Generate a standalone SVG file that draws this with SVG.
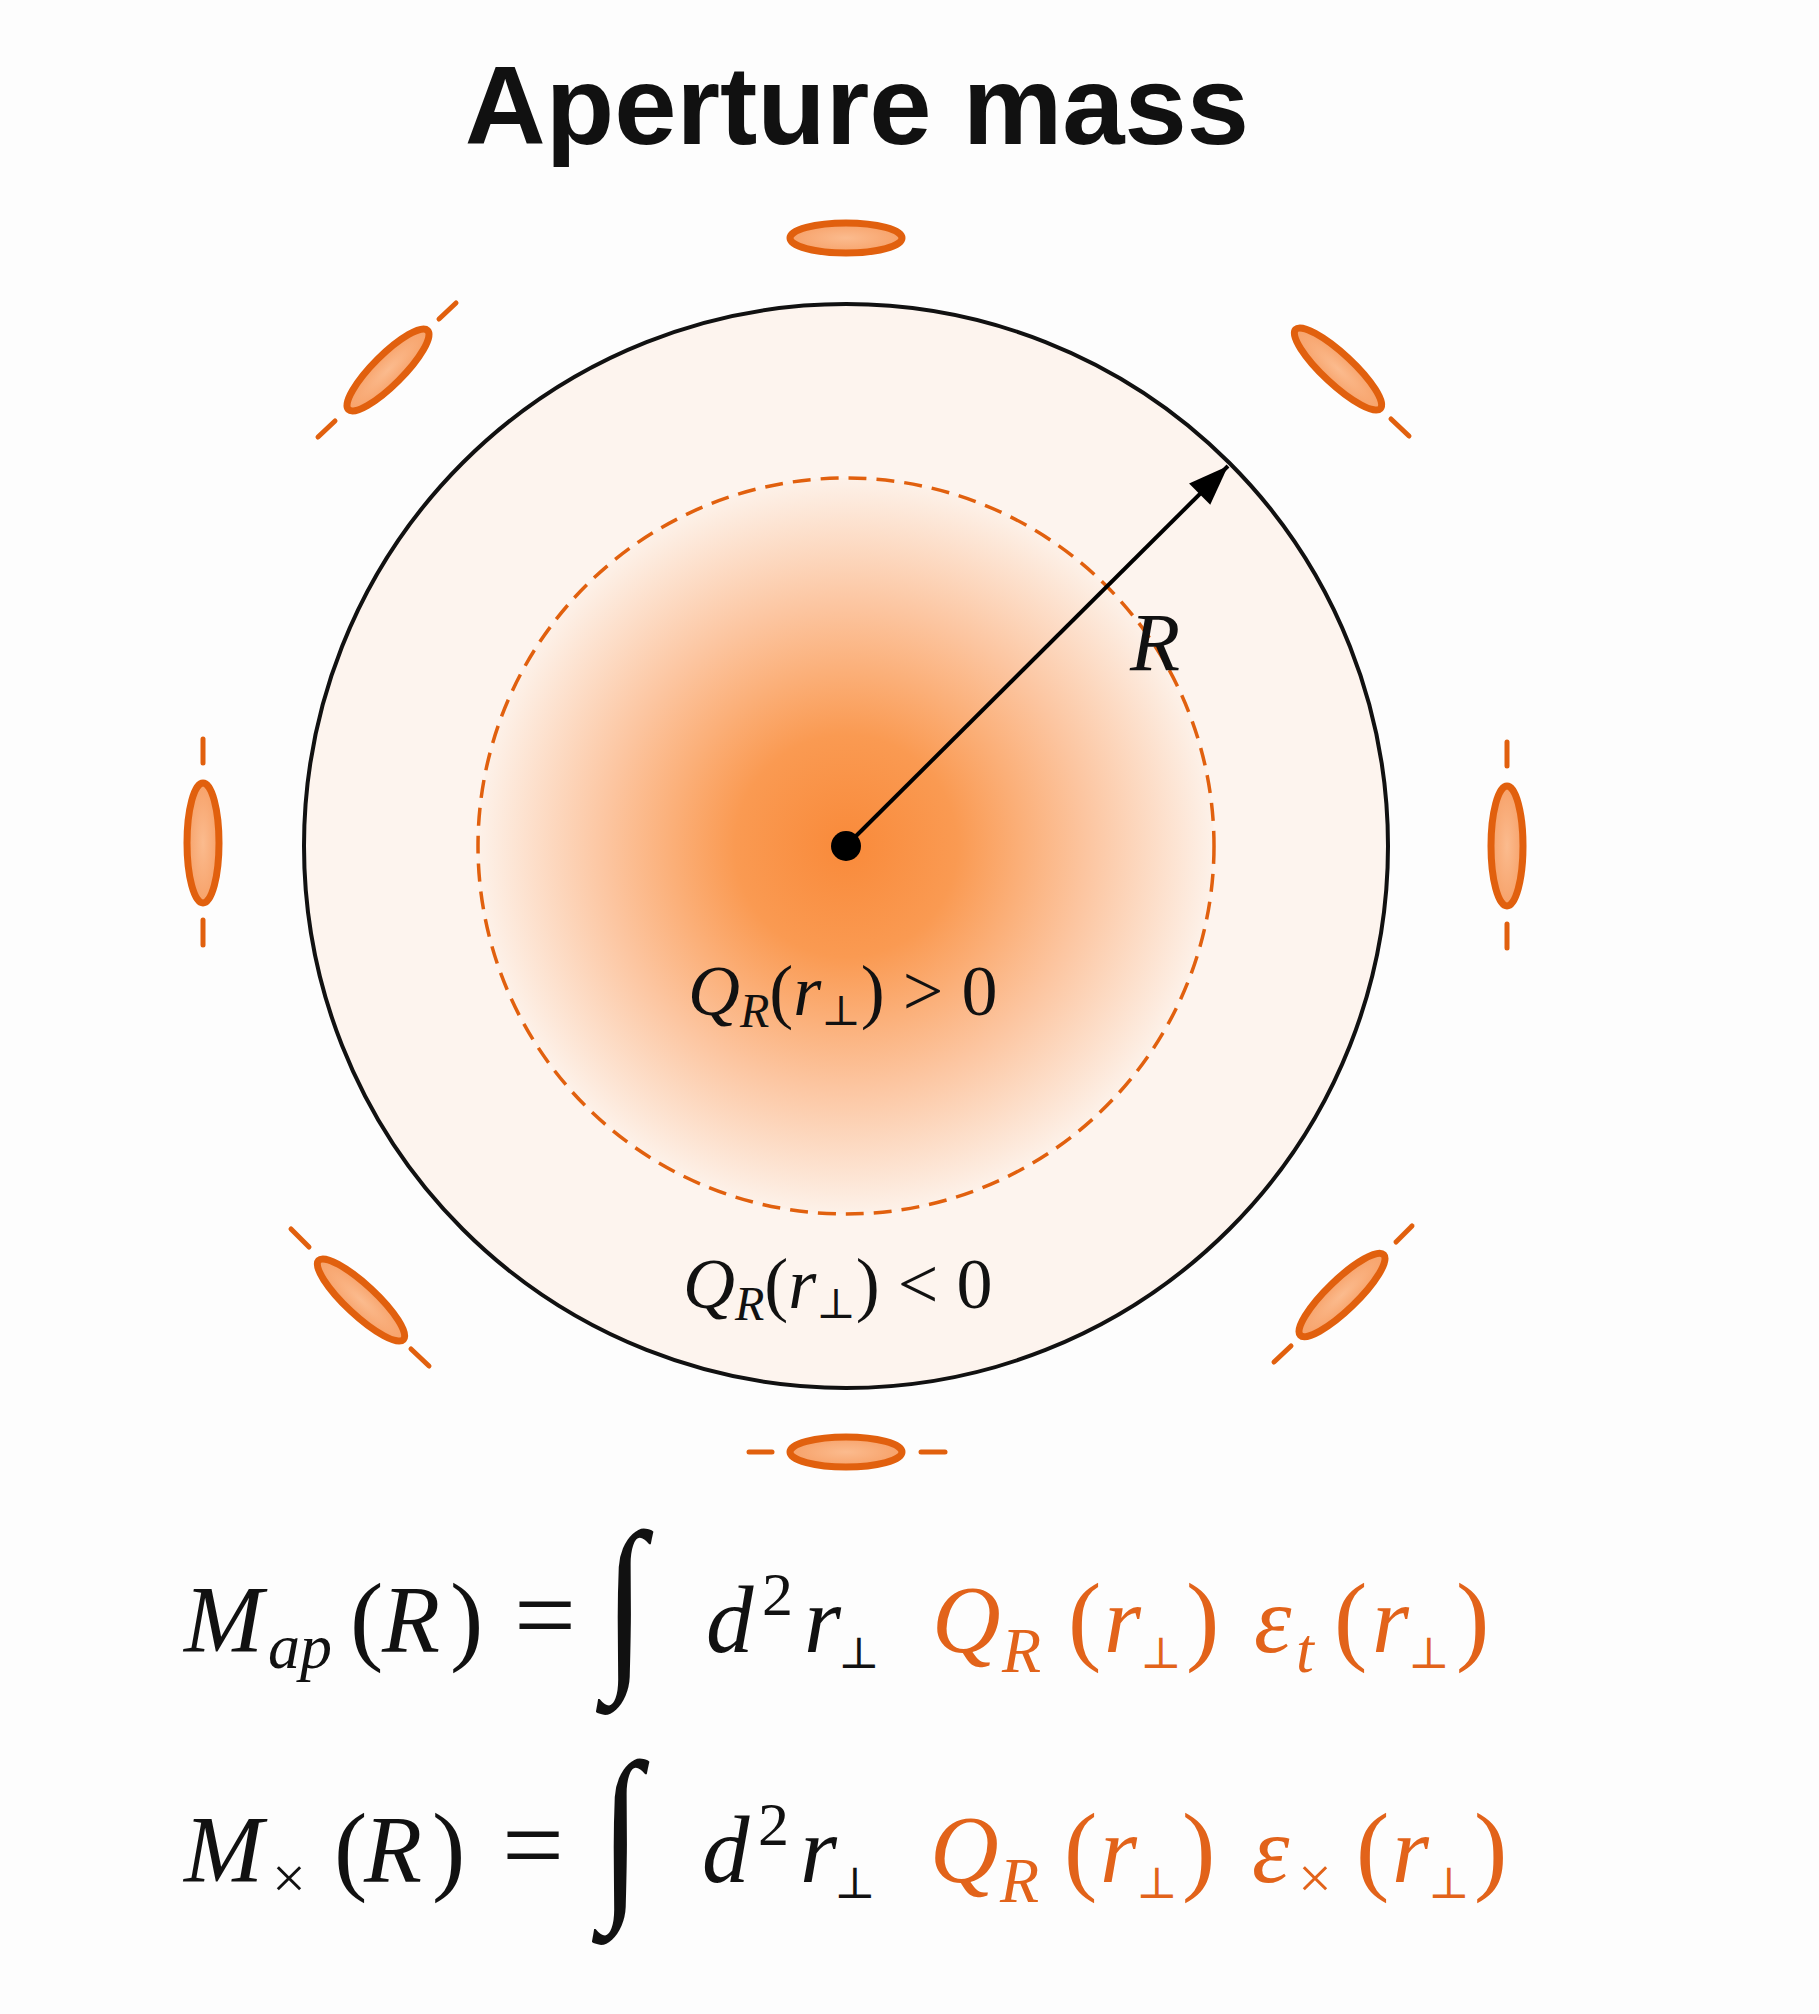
<svg xmlns="http://www.w3.org/2000/svg" width="1819" height="2014" viewBox="0 0 1819 2014">
<defs>
<radialGradient id="core" cx="846" cy="846" r="370" gradientUnits="userSpaceOnUse">
<stop offset="0" stop-color="#f98a3a"/>
<stop offset="0.3" stop-color="#fa9a52"/>
<stop offset="0.65" stop-color="#fcc5a0"/>
<stop offset="1" stop-color="#fdf2ea"/>
</radialGradient>
<radialGradient id="gal" cx="0.5" cy="0.5" r="0.5">
<stop offset="0" stop-color="#fbbb8e"/>
<stop offset="1" stop-color="#f7a26a"/>
</radialGradient>
<marker id="ah" viewBox="0 0 40 30" refX="40" refY="15" markerWidth="40" markerHeight="30" markerUnits="userSpaceOnUse" orient="auto" overflow="visible">
<path d="M0,0 L40,15 L0,30 z" fill="#000"/>
</marker>
<style>
.gal{fill:url(#gal);stroke:#e1600e;stroke-width:7}
.tick{stroke:#e1600e;stroke-width:5;stroke-linecap:round;fill:none}
.m{font-family:"Liberation Serif","DejaVu Serif",serif;font-style:italic}
.u{font-family:"Liberation Serif","DejaVu Serif",serif;font-style:normal}
.perp{font-family:"DejaVu Serif","Liberation Serif",serif;font-style:normal}
.or{fill:#e2631a}
</style>
</defs>
<rect width="1819" height="2014" fill="#fdfdfd"/>
<g id="title">
<text x="857" y="144" text-anchor="middle" font-family="Liberation Sans, Arial, sans-serif" font-weight="bold" font-size="112" fill="#111">Aperture mass</text>
</g>
<g id="aperture">
<circle cx="846" cy="846" r="542" fill="#fdf4ee" stroke="#111" stroke-width="4"/>
<circle cx="846" cy="846" r="368" fill="url(#core)" stroke="#e1600e" stroke-width="3.5" stroke-dasharray="18 10"/>
</g>
<g id="connectors">
<line x1="846" y1="846" x2="1228" y2="466" stroke="#000" stroke-width="4" marker-end="url(#ah)"/>
</g>
<g id="center">
<circle cx="846" cy="846" r="15" fill="#000"/>
</g>
<g id="label-R">
<text x="1130" y="670" class="m" font-size="82" fill="#111">R</text>
</g>
<g id="label-pos">
<text x="688" y="1015" class="m" font-size="72" fill="#111">Q<tspan font-size="48" dy="12">R</tspan><tspan class="u" dy="-12">(</tspan>r<tspan class="perp" font-size="42" dy="10">⊥</tspan><tspan class="u" dy="-10">) &gt; 0</tspan></text>
</g>
<g id="label-neg">
<text x="683" y="1308" class="m" font-size="72" fill="#111">Q<tspan font-size="48" dy="12">R</tspan><tspan class="u" dy="-12">(</tspan>r<tspan class="perp" font-size="42" dy="10">⊥</tspan><tspan class="u" dy="-10">) &lt; 0</tspan></text>
</g>
<g id="galaxy-top"><ellipse class="gal" cx="846" cy="238" rx="56" ry="15"/></g>
<g id="galaxy-bottom"><ellipse class="gal" cx="846" cy="1452" rx="56" ry="15"/><line class="tick" x1="749" y1="1452" x2="772" y2="1452"/><line class="tick" x1="921" y1="1452" x2="945" y2="1452"/></g>
<g id="galaxy-left"><ellipse class="gal" cx="203" cy="843" rx="16" ry="60"/><line class="tick" x1="203" y1="739" x2="203" y2="763"/><line class="tick" x1="203" y1="920" x2="203" y2="945"/></g>
<g id="galaxy-right"><ellipse class="gal" cx="1507" cy="846" rx="16" ry="60"/><line class="tick" x1="1507" y1="742" x2="1507" y2="766"/><line class="tick" x1="1507" y1="924" x2="1507" y2="948"/></g>
<g id="galaxy-topleft"><ellipse class="gal" cx="388" cy="370" rx="56" ry="15" transform="rotate(-45 388 370)"/><line class="tick" x1="439" y1="319" x2="456" y2="303"/><line class="tick" x1="335" y1="421" x2="318" y2="437"/></g>
<g id="galaxy-topright"><ellipse class="gal" cx="1338" cy="369" rx="58" ry="15" transform="rotate(43 1338 369)"/><line class="tick" x1="1391" y1="419" x2="1409" y2="436"/></g>
<g id="galaxy-bottomleft"><ellipse class="gal" cx="361" cy="1300" rx="58" ry="15" transform="rotate(43 361 1300)"/><line class="tick" x1="291" y1="1229" x2="309" y2="1247"/><line class="tick" x1="411" y1="1349" x2="429" y2="1366"/></g>
<g id="galaxy-bottomright"><ellipse class="gal" cx="1342" cy="1295" rx="58" ry="15" transform="rotate(-44 1342 1295)"/><line class="tick" x1="1396" y1="1242" x2="1412" y2="1226"/><line class="tick" x1="1274" y1="1362" x2="1291" y2="1346"/></g>
<g id="eq-map" font-size="95" fill="#111">
<text x="184" y="1652" class="m">M</text>
<text x="268" y="1668" class="m" font-size="64">ap</text>
<text x="350" y="1652" class="u" font-size="100">(</text>
<text x="382" y="1652" class="m">R</text>
<text x="450" y="1652" class="u" font-size="100">)</text>
<text x="514" y="1652" class="u" font-size="110">=</text>
<text transform="translate(604 1664) scale(0.8 1)" class="u" font-size="190">∫</text>
<text x="706" y="1652" class="m">d</text>
<text x="762" y="1615" class="u" font-size="62">2</text>
<text x="804" y="1652" class="m">r</text>
<text x="838" y="1668" class="perp" font-size="44">⊥</text>
<g class="or">
<text x="932" y="1652" class="m">Q</text>
<text x="1002" y="1672" class="m" font-size="64">R</text>
<text x="1068" y="1652" class="u" font-size="100">(</text>
<text x="1104" y="1652" class="m">r</text>
<text x="1140" y="1668" class="perp" font-size="44">⊥</text>
<text x="1186" y="1652" class="u" font-size="100">)</text>
<text x="1254" y="1652" class="m">ε</text>
<text x="1296" y="1672" class="m" font-size="64">t</text>
<text x="1334" y="1652" class="u" font-size="100">(</text>
<text x="1372" y="1652" class="m">r</text>
<text x="1408" y="1668" class="perp" font-size="44">⊥</text>
<text x="1456" y="1652" class="u" font-size="100">)</text>
</g>
</g>
<g id="eq-mx" font-size="95" fill="#111">
<text x="184" y="1882" class="m">M</text>
<text x="272" y="1898" class="u" font-size="60">×</text>
<text x="334" y="1882" class="u" font-size="100">(</text>
<text x="364" y="1882" class="m">R</text>
<text x="432" y="1882" class="u" font-size="100">)</text>
<text x="502" y="1882" class="u" font-size="110">=</text>
<text transform="translate(600 1894) scale(0.8 1)" class="u" font-size="190">∫</text>
<text x="702" y="1882" class="m">d</text>
<text x="758" y="1845" class="u" font-size="62">2</text>
<text x="800" y="1882" class="m">r</text>
<text x="834" y="1898" class="perp" font-size="44">⊥</text>
<g class="or">
<text x="930" y="1882" class="m">Q</text>
<text x="1000" y="1902" class="m" font-size="64">R</text>
<text x="1064" y="1882" class="u" font-size="100">(</text>
<text x="1100" y="1882" class="m">r</text>
<text x="1136" y="1898" class="perp" font-size="44">⊥</text>
<text x="1182" y="1882" class="u" font-size="100">)</text>
<text x="1252" y="1882" class="m">ε</text>
<text x="1298" y="1898" class="u" font-size="60">×</text>
<text x="1356" y="1882" class="u" font-size="100">(</text>
<text x="1392" y="1882" class="m">r</text>
<text x="1428" y="1898" class="perp" font-size="44">⊥</text>
<text x="1474" y="1882" class="u" font-size="100">)</text>
</g>
</g>
</svg>
